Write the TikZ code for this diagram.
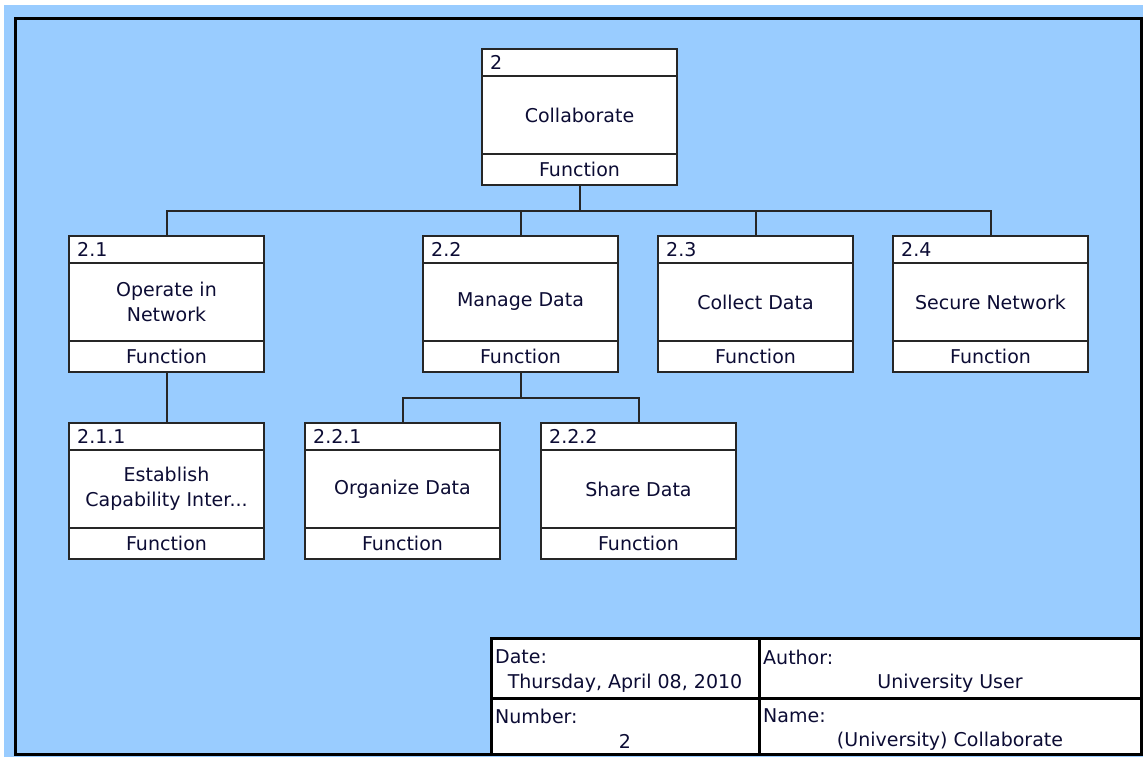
\documentclass[tikz,border=0pt]{standalone}
\usepackage{fontspec}
\setmainfont{DejaVu Sans}
\usetikzlibrary{positioning, calc}

\definecolor{sheetblue}{RGB}{153,204,255}
\definecolor{labelnavy}{RGB}{12,12,52}

\tikzset{
  funcbox/.style={draw=black!85, line width=1.5pt, fill=white, minimum width=195pt, minimum height=136pt, inner sep=0pt, outer sep=0pt, anchor=north west},
  divline/.style={draw=black!85, line width=1.5pt},
  conn/.style={draw=black!85, line width=2pt},
  lbl/.style={text=labelnavy, font=\fontsize{19}{25}\selectfont, inner sep=0pt},
  tcell/.style={draw=black, line width=3pt, fill=white, inner sep=0pt, outer sep=0pt, anchor=north west},
}

\newcommand{\funcbox}[5]{%
  \node[funcbox] (#1) at (#2,#3) {};
  \draw[divline] ([yshift=-27pt]#1.north west) -- ([yshift=-27pt]#1.north east);
  \draw[divline] ([yshift=31pt]#1.south west) -- ([yshift=31pt]#1.south east);
  \node[lbl, anchor=west] (#1-no) at ([xshift=8pt,yshift=-13.5pt]#1.north west) {#4};
  \node[lbl, align=center] (#1-name) at ([yshift=-66pt]#1.north) {#5};
  \node[lbl] (#1-kind) at ([yshift=15.5pt]#1.south) {Function};
}

\begin{document}
\begin{tikzpicture}[x=1pt, y=1pt]
\useasboundingbox (0,0) rectangle (1143,-757);
\fill[sheetblue] (4,-5) rectangle (1143,-757);

% function tree
\funcbox{n2}{482}{-49}{2}{Collaborate}
\funcbox{n21}{69}{-236}{2.1}{Operate in\\Network}
\funcbox{n22}{423}{-236}{2.2}{Manage Data}
\funcbox{n23}{658}{-236}{2.3}{Collect Data}
\funcbox{n24}{893}{-236}{2.4}{Secure Network}
\funcbox{n211}{69}{-423}{2.1.1}{Establish\\Capability Inter...}
\funcbox{n221}{305}{-423}{2.2.1}{Organize Data}
\funcbox{n222}{541}{-423}{2.2.2}{Share Data}

\coordinate (bus) at ([yshift=-26pt]n2.south);
\draw[conn] (n2.south) -- (bus);
\foreach \kid in {n21,n22,n23,n24}
  \draw[conn] (bus) -| (\kid.north);

\coordinate (bus2) at ([yshift=-26pt]n22.south);
\draw[conn] (n22.south) -- (bus2);
\foreach \kid in {n221,n222}
  \draw[conn] (bus2) -| (\kid.north);

\draw[conn] (n21.south) -- (n211.north);

% title block
\node[tcell, minimum width=268pt, minimum height=60pt] (date) at (491,-638) {};
\node[tcell, minimum width=382pt, minimum height=60pt] (author) at (759,-638) {};
\node[tcell, minimum width=268pt, minimum height=56pt] (number) at (491,-698) {};
\node[tcell, minimum width=382pt, minimum height=56pt] (name) at (759,-698) {};

\node[lbl, anchor=west] (date-key) at ([xshift=4pt,yshift=-19pt]date.north west) {Date:};
\node[lbl] (date-val) at ([yshift=-45pt]date.north) {Thursday, April 08, 2010};
\node[lbl, anchor=west] (author-key) at ([xshift=4pt,yshift=-19pt]author.north west) {Author:};
\node[lbl] (author-val) at ([yshift=-45pt]author.north) {University User};
\node[lbl, anchor=west] (number-key) at ([xshift=4pt,yshift=-18pt]number.north west) {Number:};
\node[lbl] (number-val) at ([yshift=-43pt]number.north) {2};
\node[lbl, anchor=west] (name-key) at ([xshift=4pt,yshift=-18pt]name.north west) {Name:};
\node[lbl] (name-val) at ([yshift=-43pt]name.north) {(University) Collaborate};

% sheet border
\draw[black, line width=3pt] (15,-18.5) rectangle (1141.5,-754.5);
\end{tikzpicture}
\end{document}
